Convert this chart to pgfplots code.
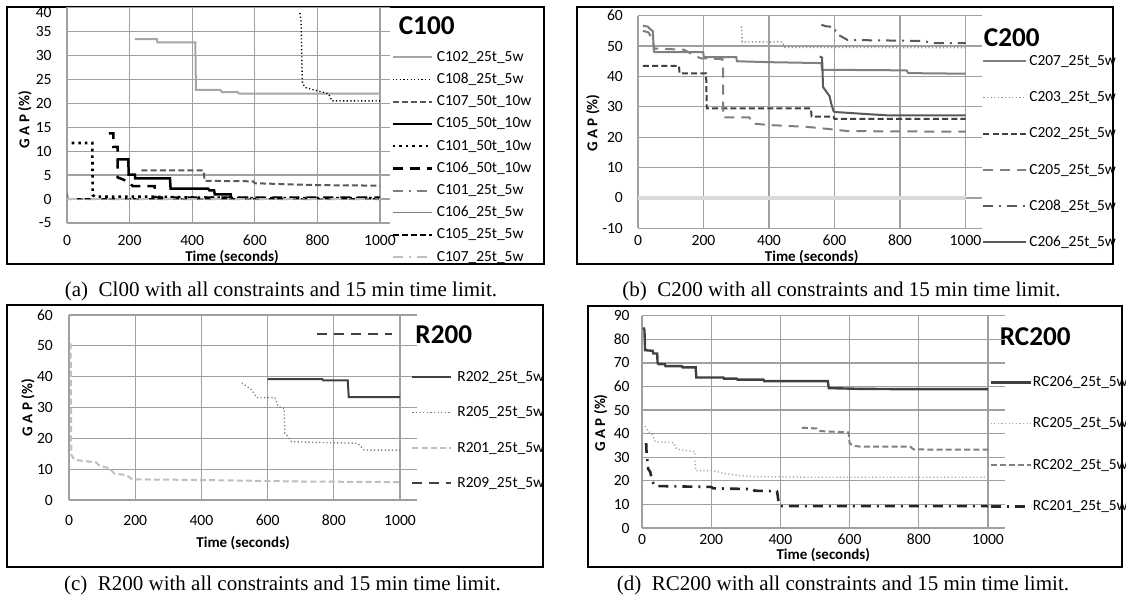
\documentclass[border=0pt]{standalone}
\usepackage{fontspec}
\setmainfont{Carlito}
\newfontfamily\capfont{Liberation Serif}
\usepackage{pgfplots}
\pgfplotsset{compat=1.18}
\definecolor{gridc}{HTML}{A0A0A0}
\definecolor{g1}{HTML}{262626}
\definecolor{g2}{HTML}{404040}
\definecolor{g3}{HTML}{595959}
\definecolor{g4}{HTML}{7F7F7F}
\definecolor{g5}{HTML}{A6A6A6}
\definecolor{g6}{HTML}{BFBFBF}
\definecolor{g7}{HTML}{D9D9D9}
\newcommand{\tksize}{\fontsize{7.8}{8}\selectfont}
\newcommand{\lgsize}{\fontsize{7.7}{8}\selectfont}
\newcommand{\lbsize}{\fontsize{7.5}{8}\selectfont\bfseries}
\newcommand{\ttsize}{\fontsize{13.6}{14}\selectfont\bfseries}
\newcommand{\cpsize}{\capfont\fontsize{10.5}{12}\selectfont}
\pgfplotsset{
  xl/.style={
    scale only axis,
    axis line style={draw=none},
    tick style={draw=none},
    major tick length=0pt,
    grid=major,
    major grid style={draw=gridc, line width=0.62pt},
    xmin=0, xtick={0,200,400,600,800,1000},
    /pgf/number format/assume math mode=true,
    /pgf/number format/1000 sep={},
    ticklabel style={font=\tksize, inner sep=0pt},
    xticklabel style={anchor=center},
    yticklabel style={anchor=east},
    xlabel={Time (seconds)},
    ylabel={G A P (\%)},
    label style={font=\lbsize, inner sep=0pt},
    legend cell align=left,
    legend style={draw=none, fill=none, inner sep=0pt, anchor=north west, font=\lgsize,
       nodes={inner sep=0pt, text height=5pt, text depth=1pt}, /tikz/column sep=2pt},
  },
  dotthin/.style={dash pattern=on 0.6pt off 1.2pt},
  dotthick/.style={dash pattern=on 1.3pt off 2pt},
  dsh/.style={dash pattern=on 3pt off 1.6pt},
  ldsh/.style={dash pattern=on 5pt off 3.5pt},
  dshdot/.style={dash pattern=on 5pt off 3pt on 1pt off 3pt},
}
\begin{document}
\begin{tikzpicture}
\useasboundingbox (0,0) rectangle (563pt,300.5pt);
\begin{scope}[x=0.5pt,y=-0.5pt,shift={(0pt,300.5pt)}]
\draw[line width=0.6pt] (7,7) rectangle (544,264);
\draw[line width=0.6pt] (577,7) rectangle (1113,264);
\draw[line width=0.6pt] (7,305) rectangle (543,567);
\draw[line width=0.6pt] (588,306) rectangle (1122,567);
\node[font=\ttsize, inner sep=0pt] at (426.7,26) {C100};
\node[font=\ttsize, inner sep=0pt] at (1011.8,38) {C200};
\node[font=\ttsize, inner sep=0pt] at (443.8,335) {R200};
\node[font=\ttsize, inner sep=0pt] at (1035.3,336.7) {RC200};
\node[font=\cpsize, inner sep=0pt, anchor=base] at (281,296) {(a)~ Cl00 with all constraints and 15 min time limit.};
\node[font=\cpsize, inner sep=0pt, anchor=base] at (841.5,296) {(b)~ C200 with all constraints and 15 min time limit.};
\node[font=\cpsize, inner sep=0pt, anchor=base] at (282.5,590) {(c)~ R200 with all constraints and 15 min time limit.};
\node[font=\cpsize, inner sep=0pt, anchor=base] at (843,590) {(d)~ RC200 with all constraints and 15 min time limit.};
\end{scope}

% ---------------- (a) C100
\begin{axis}[xl, at={(33.5pt,189pt)}, anchor=south west,
  width=161.5pt, height=107.8pt, xmax=1032, ymin=-5, ymax=40,
  ytick={-5,0,5,10,15,20,25,30,35,40},
  yticklabels={-5,0,5,10,15,20,25,30,35,\raisebox{-2.8pt}[4.9pt][0pt]{40}},
  yticklabel style={xshift=-7.5pt}, xticklabel style={yshift=-8.5pt},
  xlabel style={at={(axis description cs:0.511,-0.158)}, anchor=center},
  ylabel style={at={(axis description cs:-0.13,0.48)}, anchor=center},
  legend image code/.code={\draw[#1] (0pt,0pt) -- (19.5pt,0pt);},
  legend style={at={(axis description cs:1.003,0.798)}, /tikz/row sep=5.1pt},
]
\addplot[g5, line width=1pt] coordinates {(217,33.4) (287,33.4) (289,32.7) (410,32.7) (412,22.8) (490,22.8) (495,22.3) (545,22.3) (550,22.0) (1000,22.0)};
\addlegendentry{C102\_25t\_5w}
\addplot[black, line width=0.7pt, dotthin] coordinates {(744,38.8) (748,37) (750,30) (752,24.3) (760,23.3) (800,22.6) (835,22.0) (842,21.2) (845,20.5) (1000,20.5)};
\addlegendentry{C108\_25t\_5w}
\addplot[g3, line width=1pt, dsh] coordinates {(238,6.0) (436,6.0) (440,3.8) (595,3.7) (600,3.3) (700,3.1) (800,2.9) (1000,2.8)};
\addlegendentry{C107\_50t\_10w}
\addplot[black, line width=1.25pt] coordinates {(159,8.3) (196,8.3) (197,5.1) (217,5.1) (218,4.3) (329,4.3) (331,2.2) (451,2.2) (455,1.8) (470,1.8) (472,1.0) (523,1.0) (524,0.2)};
\addlegendentry{C105\_50t\_10w}
\addplot[black, line width=1.3pt, dotthick] coordinates {(15,11.7) (81,11.7) (82,0.8) (90,0.5) (250,0.5) (420,0.3) (600,0.2) (1000,0.2)};
\addlegendentry{C101\_50t\_10w}
\addplot[black, line width=1.25pt, ldsh] coordinates {(134,13.7) (148,13.7) (148,10.9) (162,10.9) (162,4.5) (175,4.2) (195,3.6) (210,2.7) (280,2.7) (282,0.3) (1000,0.3)};
\addlegendentry{C106\_50t\_10w}
\addplot[g4, line width=1pt, dshdot] coordinates {(0,1.2) (3,0) (1000,0)};
\addlegendentry{C101\_25t\_5w}
\addplot[g4, line width=0.6pt] coordinates {(0,0) (1000,0)};
\addlegendentry{C106\_25t\_5w}
\addplot[black, line width=0.9pt, dsh] coordinates {(25,0.1) (1000,0.1)};
\addlegendentry{C105\_25t\_5w}
\addplot[g6, line width=1pt, dshdot] coordinates {(0,0) (1000,0)};
\addlegendentry{C107\_25t\_5w}
\end{axis}

% ---------------- (b) C200
\begin{axis}[xl, at={(319pt,186.35pt)}, anchor=south west,
  width=171.95pt, height=106.3pt, xmax=1050, ymin=-10, ymax=60,
  ytick={-10,0,10,20,30,40,50,60},
  yticklabel style={xshift=-7.35pt}, xticklabel style={yshift=-6.2pt},
  xlabel style={at={(axis description cs:0.505,-0.134)}, anchor=center},
  ylabel style={at={(axis description cs:-0.131,0.495)}, anchor=center},
  legend image code/.code={\draw[#1] (0pt,0pt) -- (21.5pt,0pt);},
  legend style={at={(axis description cs:1.0003,0.815)}, /tikz/row sep=12.1pt, /tikz/column sep=1pt},
]
\addplot[g7, line width=2pt, forget plot] coordinates {(0,0) (1000,0)};
\addplot[g4, line width=1pt] coordinates {(15,56.7) (30,56.4) (38,55.5) (45,55) (48,49) (50,48) (199,48) (201,46.4) (300,46.4) (302,45) (400,44.7) (560,44.4) (562,42.2) (820,42) (825,41.1) (1000,40.9)};
\addlegendentry{C207\_25t\_5w}
\addplot[color=g4!85, line width=0.8pt, dotthin] coordinates {(316,56.5) (318,51.4) (440,51.4) (448,49.6) (1000,49.5)};
\addlegendentry{C203\_25t\_5w}
\addplot[g2, line width=1pt, dsh] coordinates {(15,43.5) (125,43.5) (127,41) (208,41) (210,29.5) (528,29.5) (530,26.8) (597,26.8) (600,26) (1000,26)};
\addlegendentry{C202\_25t\_5w}
\addplot[g4, line width=1pt, ldsh] coordinates {(15,55) (32,54.5) (45,52) (50,49.2) (140,48.8) (190,46) (258,45.7) (260,43) (260,26.5) (340,26.5) (350,24.5) (400,24) (515,23.4) (600,22.5) (640,22) (1000,21.8)};
\addlegendentry{C205\_25t\_5w}
\addplot[g3, line width=1pt, dshdot] coordinates {(560,57) (575,56.5) (600,56.3) (605,54) (615,53.5) (640,52) (870,51.7) (900,51) (1000,51)};
\addlegendentry{C208\_25t\_5w}
\addplot[g3, line width=1pt] coordinates {(555,46.6) (562,46.2) (565,36.5) (575,35) (585,33.5) (590,31) (597,28.6) (600,28.3) (700,27.6) (760,27.2) (1000,27.2)};
\addlegendentry{C206\_25t\_5w}
\end{axis}

% ---------------- (c) R200
\begin{axis}[xl, at={(34.5pt,50.5pt)}, anchor=south west,
  width=173.8pt, height=92.5pt, xmax=1050, ymin=0, ymax=60,
  ytick={0,10,20,30,40,50,60},
  yticklabel style={xshift=-7.85pt}, xticklabel style={yshift=-10pt},
  xlabel style={at={(axis description cs:0.501,-0.234)}, anchor=center},
  ylabel style={at={(axis description cs:-0.118,0.5)}, anchor=center},
  legend image code/.code={\draw[#1] (0pt,0pt) -- (19.5pt,0pt);},
  legend style={at={(axis description cs:0.984,0.697)}, /tikz/row sep=11.65pt, /tikz/column sep=2.5pt},
]
\addplot[g2, line width=1pt] coordinates {(600,39.2) (765,39.2) (768,38.8) (842,38.8) (845,33.4) (1000,33.4)};
\addlegendentry{R202\_25t\_5w}
\addplot[g4, line width=0.7pt, dotthin] coordinates {(522,38) (535,37) (552,35.7) (567,33.2) (622,33.2) (632,30.3) (650,29.7) (652,21.6) (662,20.5) (672,18.9) (872,18.4) (892,16.2) (1000,16.2)};
\addlegendentry{R205\_25t\_5w}
\addplot[g6, line width=1pt, dsh] coordinates {(5,50.8) (7,14.6) (17,13) (82,12.2) (92,11.1) (122,10.3) (137,8.6) (172,8.1) (192,6.7) (392,6.5) (700,6.0) (1000,5.8)};
\addlegendentry{R201\_25t\_5w}
\addplot[g2, line width=1pt, ldsh] coordinates {(750,53.7) (975,53.7)};
\addlegendentry{R209\_25t\_5w}
\end{axis}

% ---------------- (d) RC200
\begin{axis}[xl, at={(321pt,36.5pt)}, anchor=south west,
  width=181.65pt, height=106.15pt, xmax=1050, ymin=0, ymax=90,
  ytick={0,10,20,30,40,50,60,70,80,90},
  yticklabel style={xshift=-6pt}, xticklabel style={yshift=-5.65pt},
  xlabel style={at={(axis description cs:0.499,-0.127)}, anchor=center},
  ylabel style={at={(axis description cs:-0.114,0.495)}, anchor=center},
  legend image code/.code={\draw[#1] (0pt,0pt) -- (20pt,0pt);},
  legend style={at={(axis description cs:0.955,0.716)}, /tikz/row sep=14.67pt, /tikz/column sep=0.5pt},
]
\addplot[g2, line width=1.2pt] coordinates {(4,85) (7,84) (9,75.4) (31,75.1) (33,74) (44,74) (45,70) (48,69.5) (66,69.5) (68,68.6) (115,68.6) (117,68.1) (155,68.1) (157,63.8) (235,63.8) (237,63.3) (274,63.3) (276,62.9) (351,62.9) (353,62.3) (537,62.3) (540,59.3) (630,59) (727,58.9) (1000,58.9)};
\addlegendentry{RC206\_25t\_5w}
\addplot[g5, line width=0.7pt, dotthin] coordinates {(9,43.2) (18,40.8) (28,40.1) (33,38.7) (38,36.6) (91,36.2) (100,33.5) (153,32.3) (155,24.3) (206,24.3) (235,23.2) (283,22.2) (322,21.8) (496,21.5) (1000,21.5)};
\addlegendentry{RC205\_25t\_5w}
\addplot[g4, line width=1pt, dsh] coordinates {(462,42.5) (505,42.2) (515,41.1) (597,40.5) (600,35.9) (611,34.9) (630,34.5) (775,34.5) (785,33.3) (1000,33.2)};
\addlegendentry{RC202\_25t\_5w}
\addplot[g1, line width=1.3pt, dshdot] coordinates {(12,36) (13,32.4) (15,29.3) (18,25) (24,23.7) (29,20) (37,17.8) (200,17.4) (206,16.8) (322,16.5) (325,15.8) (390,15.6) (392,14) (395,10.5) (400,9.3) (1000,9.3)};
\addlegendentry{RC201\_25t\_5w}
\end{axis}
\end{tikzpicture}
\end{document}
